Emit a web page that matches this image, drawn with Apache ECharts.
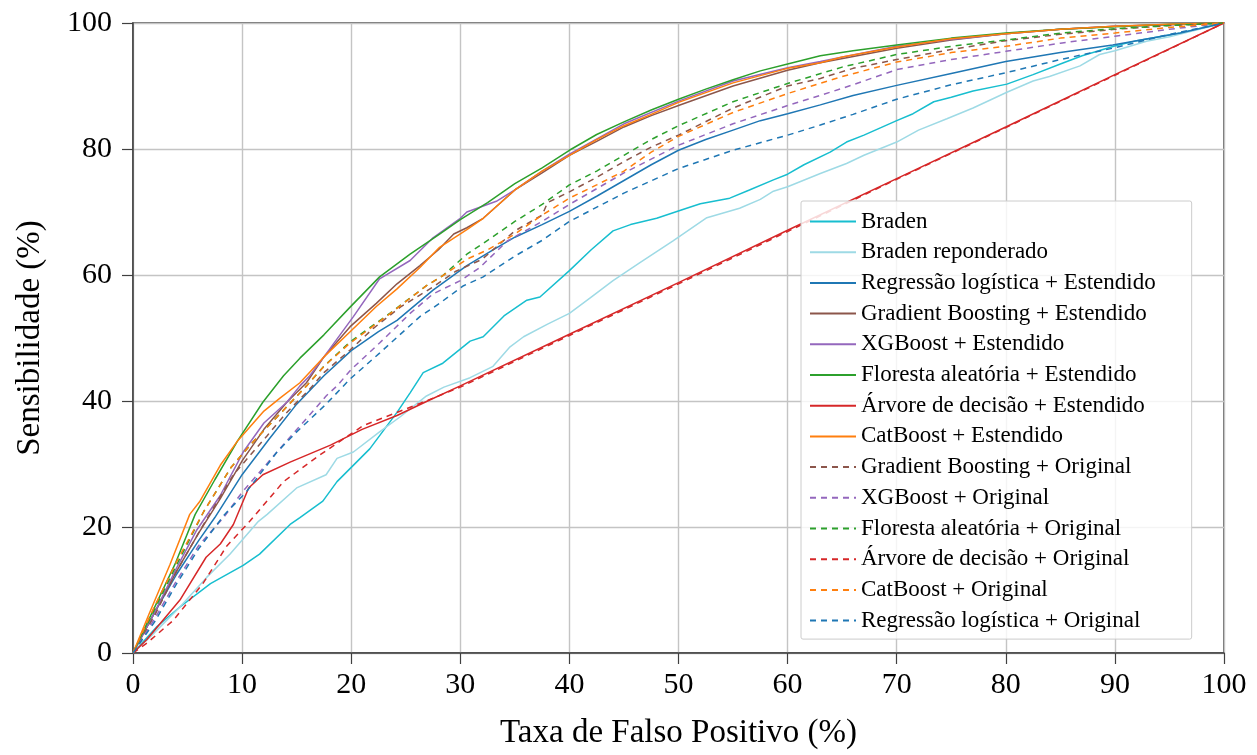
<!DOCTYPE html>
<html>
<head>
<meta charset="utf-8">
<script src="https://cdn.jsdelivr.net/npm/echarts@6/dist/echarts.min.js"></script>
<style>
  html, body { margin: 0; padding: 0; background: #ffffff; }
  #chart { width: 1257px; height: 755px; }
</style>
</head>
<body>
<div id="chart"></div>
<script>
// ROC curves: [false positive rate (%), sensitivity (%)]
const braden = [[0,0],[2.2,4.2],[4.3,7.3],[7.1,11],[10.1,13.9],[11.6,15.7],[14.4,20.4],[15.3,21.5],[17.4,24.1],[18.7,27.2],[21.7,32.4],[24.2,38.2],[25.4,41.3],[26.6,44.5],[28.4,46],[30.9,49.5],[32.1,50.2],[34,53.5],[36.1,56],[37.3,56.5],[40,60.7],[42,64],[44,67],[45.6,68],[48,69],[50.4,70.4],[52,71.3],[54.7,72.2],[56.5,73.5],[58.7,75.1],[60,76],[61.5,77.5],[63.9,79.5],[65.4,81.1],[67,82.2],[70,84.5],[71.5,85.6],[73.4,87.5],[75,88.2],[77,89.2],[80.1,90.3],[82.5,91.8],[85,93.5],[87,94.8],[89.9,96.3],[92,97.2],[96,98.4],[100,100]];
const bradenReponderado = [[0,0],[1.6,2.6],[4.3,7.3],[6.75,12],[8.9,15.7],[11.5,20.9],[12.3,22],[15,26.2],[17.7,28.3],[18.7,30.9],[20.2,31.9],[22.6,35.1],[24.5,37.5],[26.9,40.8],[28.5,42.2],[30.9,43.7],[33,45.5],[34.5,48.5],[35.8,50.2],[38,52.2],[40,53.9],[42,56.5],[44,59.1],[46.5,62],[49.5,65.4],[52.6,69.1],[55.6,70.6],[57.5,72],[58.7,73.3],[60,74],[63,76.1],[65.4,77.7],[67,79],[70,81.1],[72,83],[74.6,84.8],[77,86.5],[80.1,89],[82.5,90.8],[84,91.5],[86.8,93.2],[88.6,95],[90,95.6],[92.9,97.1],[95,97.8],[100,100]];
const regLogEstendido = [[0,0],[2,6.5],[4,12.5],[6,17.8],[7.5,21.5],[10,28.3],[12.5,34],[15,39.5],[17.5,44],[20,48],[22.5,51],[24.2,52.8],[27.5,57.6],[30.6,61.5],[33,64],[35,66],[37.5,68],[40,70.1],[42.5,72.5],[45,75],[47.5,77.5],[50,79.8],[52.5,81.5],[55,83],[57.5,84.5],[60,85.6],[63,87],[66,88.5],[70,90.1],[75,92],[80,93.9],[85,95.3],[89.8,96.5],[96,98.4],[100,100]];
const gbEstendido = [[0,0],[2,6.5],[4,13],[6,19],[8,24.5],[10,30.5],[12,35.5],[14.1,39.8],[15.9,42.9],[17.5,47],[19.9,51.8],[22.3,55.5],[24.2,58.6],[26.3,61.5],[28,64],[29.4,66.5],[30.6,67.5],[32.1,69],[35,73.5],[37.5,76.2],[40,79],[42.5,81.2],[45,83.5],[47.5,85.3],[50,86.9],[55,90],[60,92.5],[63,93.7],[70,96],[75,97.3],[80,98.3],[85,99],[90,99.5],[100,100]];
const xgbEstendido = [[0,0],[2,6.5],[4,13.5],[5.8,19.4],[8,25],[10.1,31.9],[12,36.5],[14.1,39.8],[15.3,42.4],[16.2,44],[17.5,47],[20.2,53.4],[22.6,59.4],[25.4,62.3],[27.5,65.9],[30,69],[30.6,70],[33.3,71.7],[35,73.5],[37.5,76.5],[40,79.2],[45,84],[50,87.6],[55,90.8],[60,92.9],[63,93.9],[70,96.3],[75,97.4],[80,98.3],[85,99],[90,99.5],[100,100]];
const rfEstendido = [[0,0],[1.5,5.5],[3.85,14.1],[5.7,22],[7.5,27.5],[9.6,33.7],[11.9,39.8],[13.8,44],[15.3,46.8],[17.5,50.5],[19.9,54.9],[22.6,59.7],[25.4,63.3],[28.1,66.5],[30,68.8],[32.5,71.5],[35,74.5],[37.5,77],[40,79.8],[42.5,82.3],[45,84.3],[47.5,86.2],[50,87.9],[52.5,89.5],[55,91],[57.5,92.4],[60,93.5],[63,94.8],[66,95.6],[70,96.5],[75,97.6],[80,98.4],[85,99],[90,99.4],[95,99.8],[100,100]];
const dtEstendido = [[0,0],[1.25,2.1],[4.3,8.4],[6.7,15.2],[8,17.3],[9.2,20.4],[10.6,26.2],[11.9,28.3],[14.4,30.3],[18.1,33],[21,35.5],[24.2,37.7],[27,40],[30,42.4],[40,50.6],[50,58.8],[60,67.1],[70,75.3],[80,83.5],[90,91.8],[100,100]];
const cbEstendido = [[0,0],[1.5,6.3],[3.4,14.1],[5.2,22],[6.1,24],[8,29.8],[9.6,33.7],[12,38.4],[13.5,40.5],[15.3,42.9],[17.5,47],[19.9,51],[22.3,55],[24.2,57.8],[26.3,61.2],[28.1,64.4],[30.6,67.2],[32.1,69],[35,73.5],[37.5,76.5],[40,79],[42.5,81.5],[45,83.7],[47.5,85.5],[50,87.4],[55,90.5],[60,92.8],[63,93.7],[65,94.6],[70,96.2],[75,97.5],[80,98.3],[85,99],[90,99.5],[95,99.8],[100,100]];
const gbOriginal = [[0,0],[2,6],[4,13],[6.5,20.5],[9.2,28.3],[12.3,34.5],[14,38],[16.2,41.9],[17.5,44.5],[19.9,48.1],[22,51.5],[24.5,54.9],[27.5,58.1],[29.6,60.6],[32,62.5],[35,67],[37.5,69.5],[38,71.5],[40,73.2],[42.5,75.5],[45,78],[47.5,80.3],[50,82.2],[55,86.5],[60,90],[63,91.2],[66,92.8],[70,94.2],[75,95.8],[80,97.2],[85,98.2],[90,99],[95,99.6],[100,100]];
const xgbOriginal = [[0,0],[2,5.5],[4,11.5],[6,17],[8.3,21.5],[10,25.5],[11.9,29.3],[14,33.5],[15.9,37.2],[17.7,40.8],[18.7,42.4],[20,45],[22.6,49.2],[25.4,53.9],[27.5,57],[30,59.1],[31.8,61.2],[34.3,65.4],[37.5,68.5],[40,71.2],[45,76.2],[50,80.6],[55,84],[60,86.9],[63,88.5],[66,90.2],[70,92.6],[75,94.2],[80,95.5],[85,96.8],[90,97.9],[95,99],[100,100]];
const rfOriginal = [[0,0],[2,7],[4,14],[6.5,22.5],[9,29.5],[11,33.5],[13.5,38],[15.9,42.4],[17.5,45.5],[19.9,49.4],[23.6,54],[26.9,58.3],[28.4,59.9],[30.6,63.3],[32.5,65.5],[35,68.5],[37.5,71.2],[40,74.3],[42.5,76.5],[45,79],[47.5,81.5],[50,83.7],[55,87.5],[60,90.4],[65,93],[70,95],[75,96.3],[80,97.3],[85,98.4],[90,99.1],[95,99.6],[100,100]];
const dtOriginal = [[0,0],[1.3,1.6],[3.7,5.2],[6.4,11],[8.6,17],[10.7,20.9],[13.8,27.2],[17.1,31.4],[21.1,36.1],[25.7,39.2],[30,42.2],[40,50.4],[50,58.6],[60,66.9],[70,75.2],[80,83.4],[90,91.7],[100,100]];
const cbOriginal = [[0,0],[2,7.5],[4,14.5],[6.5,22.5],[9,29.5],[11,33.5],[13.5,38],[15.9,42.4],[17.5,45.5],[19.9,49.2],[23.6,53.9],[26.9,58.3],[28.4,59.9],[30.6,62.5],[32.5,64],[35,66.5],[37.5,69.5],[40,72.2],[42.5,74.3],[45,76.5],[47.5,79.5],[50,82],[55,85.8],[60,88.8],[65,91.5],[70,93.8],[75,95.3],[80,96.3],[85,97.6],[90,98.4],[95,99.3],[100,100]];
const regLogOriginal = [[0,0],[2,5],[4,11],[6,16.5],[8.4,22],[10.4,25.6],[13.2,31.9],[15,35.1],[17.7,39.5],[19.9,43.5],[22.6,47.6],[26.3,53.4],[28.1,55.5],[30.3,58.3],[32.1,59.7],[35,63],[37.5,65.5],[40,68.5],[45,73],[50,76.9],[55,79.8],[60,82.2],[63,83.8],[66,85.5],[70,87.9],[75,90.2],[80,92.1],[85,94.2],[89.8,96],[95,98.2],[100,100]];

const xTicks = [0, 10, 20, 30, 40, 50, 60, 70, 80, 90, 100];
const yTicks = [0, 20, 40, 60, 80, 100];

const curves = [
  { name: 'Braden', data: braden, color: '#17becf', dashed: false },
  { name: 'Braden reponderado', data: bradenReponderado, color: '#9edae5', dashed: false },
  { name: 'Regressão logística + Estendido', data: regLogEstendido, color: '#1f77b4', dashed: false },
  { name: 'Gradient Boosting + Estendido', data: gbEstendido, color: '#8c564b', dashed: false },
  { name: 'XGBoost + Estendido', data: xgbEstendido, color: '#9467bd', dashed: false },
  { name: 'Floresta aleatória + Estendido', data: rfEstendido, color: '#2ca02c', dashed: false },
  { name: 'Árvore de decisão + Estendido', data: dtEstendido, color: '#d62728', dashed: false },
  { name: 'CatBoost + Estendido', data: cbEstendido, color: '#ff7f0e', dashed: false },
  { name: 'Gradient Boosting + Original', data: gbOriginal, color: '#8c564b', dashed: true },
  { name: 'XGBoost + Original', data: xgbOriginal, color: '#9467bd', dashed: true },
  { name: 'Floresta aleatória + Original', data: rfOriginal, color: '#2ca02c', dashed: true },
  { name: 'Árvore de decisão + Original', data: dtOriginal, color: '#d62728', dashed: true },
  { name: 'CatBoost + Original', data: cbOriginal, color: '#ff7f0e', dashed: true },
  { name: 'Regressão logística + Original', data: regLogOriginal, color: '#1f77b4', dashed: true }
];

const FONT = '"Liberation Serif", "DejaVu Serif", serif';
const frame = '#404040';

const chart = echarts.init(document.getElementById('chart'), null, { renderer: 'canvas' });

chart.setOption({
  animation: false,
  backgroundColor: '#ffffff',
  textStyle: { fontFamily: FONT, color: '#000' },
  grid: {
    left: 133, right: 33, top: 23, bottom: 95,
    show: true, borderColor: frame, borderWidth: 1.5, backgroundColor: 'transparent'
  },
  xAxis: {
    type: 'value', min: 0, max: 100, interval: 10,
    name: 'Taxa de Falso Positivo (%)',
    nameLocation: 'middle', nameGap: 64,
    nameTextStyle: { fontFamily: FONT, fontSize: 33, color: '#000' },
    axisLine: { show: true, lineStyle: { color: frame, width: 1.5 } },
    axisTick: { show: true, inside: false, length: 11, lineStyle: { color: frame, width: 1.2 } },
    axisLabel: {
      margin: 17, fontFamily: FONT, fontSize: 30, color: '#000',
      formatter: v => xTicks.includes(v) ? String(v) : ''
    },
    splitLine: { show: true, lineStyle: { color: '#c4c4c4', width: 1.4 } }
  },
  yAxis: {
    type: 'value', min: 0, max: 100, interval: 20,
    name: 'Sensibilidade (%)',
    nameLocation: 'middle', nameGap: 86,
    nameTextStyle: { fontFamily: FONT, fontSize: 33, color: '#000' },
    axisLine: { show: true, lineStyle: { color: frame, width: 1.5 } },
    axisTick: { show: true, inside: false, length: 11, lineStyle: { color: frame, width: 1.2 } },
    axisLabel: {
      margin: 21, fontFamily: FONT, fontSize: 30, color: '#000',
      formatter: v => yTicks.includes(v) ? String(v) : ''
    },
    splitLine: { show: true, lineStyle: { color: '#c4c4c4', width: 1.4 } }
  },
  legend: {
    orient: 'vertical',
    left: 801, top: 201,
    padding: [9, 36, 7, 8],
    itemWidth: 46, itemHeight: 14, itemGap: 7.7,
    backgroundColor: 'rgba(255,255,255,0.82)',
    borderColor: '#cccccc', borderWidth: 1, borderRadius: 2,
    itemStyle: { color: 'transparent', borderColor: 'transparent', borderWidth: 0, opacity: 0 },
    textStyle: { fontFamily: FONT, fontSize: 23, color: '#000', lineHeight: 22 },
    data: curves.map(c => c.name)
  },
  series: curves.map(c => ({
    name: c.name,
    type: 'line',
    data: c.data,
    symbol: 'none',
    smooth: false,
    clip: true,
    lineStyle: { color: c.color, width: 1.5, type: c.dashed ? [6, 5] : 'solid' },
    itemStyle: { color: c.color },
    emphasis: { disabled: true }
  }))
});
</script>
</body>
</html>
